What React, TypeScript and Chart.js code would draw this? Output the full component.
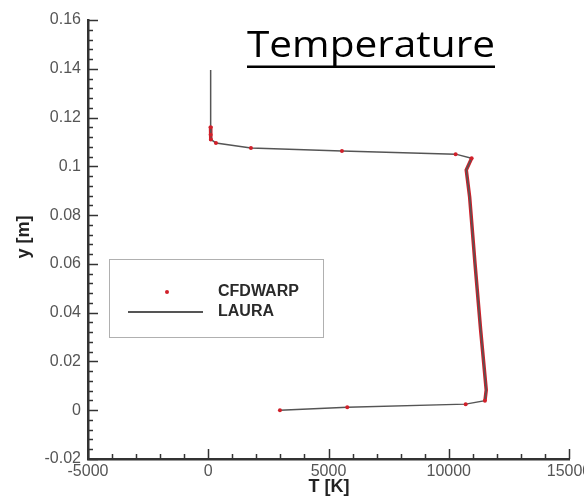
import React, { useEffect, useRef } from "react";
import { Chart, registerables } from "chart.js";

Chart.register(...registerables);

// LAURA profile (T [K], y [m])
const lauraT = [100, 100, 120, 320, 1775, 5560, 10287, 10952, 10728, 10869, 11090, 11326, 11559, 11505, 10703, 5780, 2981];
const lauraY = [0.1395, 0.116, 0.111, 0.1096, 0.1075, 0.1063, 0.105, 0.1033, 0.0985, 0.0874, 0.0603, 0.0329, 0.0083, 0.0039, 0.0025, 0.0012, 0.0];

// CFDWARP sparse markers
const cfdT = [100, 100, 110, 320, 1775, 5560, 10287, 10952, 11505, 10703, 5780, 2981];
const cfdY = [0.116, 0.113, 0.111, 0.1096, 0.1075, 0.1063, 0.105, 0.1033, 0.0039, 0.0025, 0.0012, 0.0];

// CFDWARP densely packed points (appear as solid red runs)
const cfdTopT = [95, 100, 110];
const cfdTopY = [0.1165, 0.1135, 0.1105];
const cfdWallT = [10952, 10728, 10869, 11090, 11326, 11559, 11505];
const cfdWallY = [0.1033, 0.0985, 0.0874, 0.0603, 0.0329, 0.0083, 0.0039];

const xTicks = [-5000, 0, 5000, 10000, 15000];
const yTicks = [-0.02, 0, 0.02, 0.04, 0.06, 0.08, 0.1, 0.12, 0.14, 0.16];

const seriesNames = ["CFDWARP", "LAURA"];
const chartTitle = "Temperature";
const xTitle = "T [K]";
const yTitle = "y [m]";

const RED = "#d0202a";
const LINE = "#555555";
const AXIS = "#333333";

const zip = (xs: number[], ys: number[]) => xs.map((x, i) => ({ x, y: ys[i] }));

const decorPlugin = {
  id: "decor",
  afterDatasetsDraw(chart: any) {
    const ctx = chart.ctx as CanvasRenderingContext2D;
    const xs = chart.scales.x;
    const ys = chart.scales.y;
    const area = chart.chartArea;
    ctx.save();
    // inward tick marks
    ctx.strokeStyle = AXIS;
    ctx.lineWidth = 1.5;
    const ymin = yTicks[0];
    const ymax = yTicks[yTicks.length - 1];
    const ystepMinor = (yTicks[1] - yTicks[0]) / 5;
    const nY = Math.round((ymax - ymin) / ystepMinor);
    for (let i = 0; i <= nY; i++) {
      const v = ymin + i * ystepMinor;
      const py = Math.round(ys.getPixelForValue(v)) + 0.5;
      const len = i % 5 === 0 ? 10 : 5;
      ctx.beginPath();
      ctx.moveTo(area.left, py);
      ctx.lineTo(area.left + len, py);
      ctx.stroke();
    }
    const xmin = xTicks[0];
    const xmax = xTicks[xTicks.length - 1];
    const xstepMinor = (xTicks[1] - xTicks[0]) / 5;
    const nX = Math.round((xmax - xmin) / xstepMinor);
    for (let i = 0; i <= nX; i++) {
      const v = xmin + i * xstepMinor;
      const px = Math.round(xs.getPixelForValue(v)) + 0.5;
      const len = i % 5 === 0 ? 10 : 5;
      ctx.beginPath();
      ctx.moveTo(px, area.bottom);
      ctx.lineTo(px, area.bottom - len);
      ctx.stroke();
    }

    // legend box
    ctx.fillStyle = "#ffffff";
    ctx.fillRect(110, 260, 213, 77);
    ctx.strokeStyle = "#b0b0b0";
    ctx.lineWidth = 1;
    ctx.strokeRect(109.5, 259.5, 214, 78);
    ctx.fillStyle = RED;
    ctx.beginPath();
    ctx.arc(167, 292, 2, 0, Math.PI * 2);
    ctx.fill();
    ctx.strokeStyle = LINE;
    ctx.lineWidth = 2;
    ctx.beginPath();
    ctx.moveTo(128, 312);
    ctx.lineTo(203, 312);
    ctx.stroke();
    ctx.fillStyle = "#2a2a2a";
    ctx.font = "bold 16px 'Liberation Sans', Arial, sans-serif";
    ctx.textBaseline = "middle";
    ctx.textAlign = "left";
    ctx.fillText(seriesNames[0], 218, 292);
    ctx.fillText(seriesNames[1], 218, 312);

    // axis titles
    ctx.fillStyle = "#222222";
    ctx.font = "bold 18px 'Liberation Sans', Arial, sans-serif";
    ctx.textAlign = "center";
    ctx.fillText(xTitle, 329, 487);
    ctx.save();
    ctx.translate(24, 237);
    ctx.rotate(-Math.PI / 2);
    ctx.fillText(yTitle, 0, 0);
    ctx.restore();

    // slide title, fitted to the measured width
    ctx.font = "37px 'Open Sans', 'Noto Sans', sans-serif";
    ctx.fillStyle = "#000000";
    ctx.textAlign = "left";
    ctx.textBaseline = "alphabetic";
    const w0 = ctx.measureText(chartTitle).width;
    const sx = 248 / w0;
    ctx.save();
    ctx.translate(247, 57);
    ctx.scale(sx, 1);
    ctx.fillText(chartTitle, 0, 0);
    ctx.restore();
    ctx.fillRect(247, 65.5, 248, 2.5);
    ctx.restore();
  },
};

export default function App() {
  const ref = useRef<HTMLCanvasElement | null>(null);
  useEffect(() => {
    if (!ref.current) return;
    const chart = new Chart(ref.current, {
      type: "scatter",
      data: {
        datasets: [
          {
            label: seriesNames[0],
            data: zip(cfdT, cfdY),
            showLine: false,
            pointRadius: 2,
            pointBackgroundColor: RED,
            pointBorderWidth: 0,
            order: 0,
          },
          {
            label: seriesNames[1],
            data: zip(lauraT, lauraY),
            showLine: true,
            borderColor: LINE,
            borderWidth: 1.5,
            pointRadius: 0,
            tension: 0,
            order: 1,
          },
          {
            label: seriesNames[0] + " (dense)",
            data: zip(cfdWallT, cfdWallY),
            showLine: true,
            borderColor: RED,
            borderWidth: 3.5,
            pointRadius: 0,
            order: 2,
          },
          {
            label: seriesNames[0] + " (dense top)",
            data: zip(cfdTopT, cfdTopY),
            showLine: true,
            borderColor: RED,
            borderWidth: 3.5,
            pointRadius: 0,
            order: 2,
          },
        ],
      },
      options: {
        responsive: false,
        animation: false,
        layout: { padding: { left: 0, right: 15, top: 20, bottom: 0 } },
        plugins: {
          legend: { display: false },
          tooltip: { enabled: false },
          title: { display: false },
        },
        scales: {
          x: {
            type: "linear",
            min: xTicks[0],
            max: xTicks[xTicks.length - 1],
            afterBuildTicks: (s: any) => {
              s.ticks = xTicks.map((v) => ({ value: v }));
            },
            afterFit: (s: any) => {
              s.height = 41;
              s.paddingLeft = 0;
              s.paddingRight = 0;
            },
            grid: { display: false, drawTicks: false },
            border: { display: true, color: AXIS, width: 2.5 },
            ticks: {
              autoSkip: false,
              maxRotation: 0,
              padding: 3,
              color: "#555555",
              font: { family: "'Liberation Sans', Arial, sans-serif", size: 16 },
              callback: (v: any) => String(v),
            },
          },
          y: {
            type: "linear",
            min: yTicks[0],
            max: yTicks[yTicks.length - 1],
            afterBuildTicks: (s: any) => {
              s.ticks = yTicks.map((v) => ({ value: v }));
            },
            afterFit: (s: any) => {
              s.width = 88;
              s.paddingTop = 0;
              s.paddingBottom = 0;
            },
            grid: { display: false, drawTicks: false },
            border: { display: true, color: AXIS, width: 2.5 },
            ticks: {
              autoSkip: false,
              padding: 7,
              color: "#555555",
              font: { family: "'Liberation Sans', Arial, sans-serif", size: 16 },
              callback: (v: any) => String(+Number(v).toFixed(3)),
            },
          },
        },
      },
      plugins: [decorPlugin],
    } as any);
    return () => chart.destroy();
  }, []);
  return (
    <div style={{ position: "absolute", left: 0, top: 0, width: 584, height: 500, background: "#fff" }}>
      <canvas ref={ref} width={584} height={500} />
    </div>
  );
}
